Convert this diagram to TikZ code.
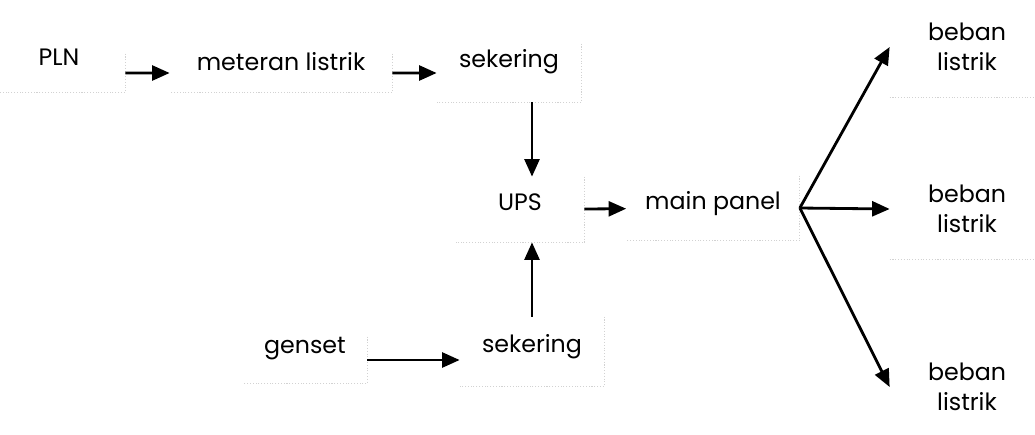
\documentclass[tikz,border=0pt]{standalone}
\usepackage{fontspec}
\setmainfont{Poppins}
\usepackage{tikz}
\usetikzlibrary{arrows.meta,positioning}

\begin{document}
\begin{tikzpicture}[
    x=0.02cm, y=-0.02cm,
    block/.style={inner sep=0pt, anchor=base, font=\fontsize{13.5}{17}\selectfont},
    load/.style={inner sep=0pt, align=center, minimum width=3.08cm,
                 minimum height=2cm, font=\fontsize{13.5}{17}\selectfont},
    rim/.style={gray!35, densely dotted, line width=0.6pt},
    arrow/.style={-{Triangle[length=10pt,width=8.5pt]}, line width=1.6pt}
]
\useasboundingbox (0,0) rectangle (1035,434);

\node[block, minimum width=2.64cm, text height=0.22cm, text depth=0.54cm] (pln)    at (59,65)   {PLN};
\node[block, minimum width=4.44cm, text height=0.32cm, text depth=0.44cm] (meter)  at (281,70)  {meteran listrik};
\node[block, minimum width=2.88cm, text height=0.46cm, text depth=0.70cm] (fuseA)  at (509,67)  {sekering};
\node[block, minimum width=2.56cm, text height=0.66cm, text depth=0.64cm] (ups)    at (520,210) {UPS};
\node[block, minimum width=3.46cm, text height=0.66cm, text depth=0.62cm] (panel)  at (713,209) {main panel};
\node[block, minimum width=2.48cm, text height=0.32cm, text depth=0.60cm] (genset) at (305,353) {genset};
\node[block, minimum width=2.88cm, text height=0.70cm, text depth=0.68cm] (fuseB)  at (532,352) {sekering};
\node[load] (loadA) at (967,47)  {beban\\listrik};
\node[load] (loadB) at (967,209) {beban\\listrik};
\node[load] (loadC) at (967,387) {beban\\listrik};

% faint box edges
\foreach \n in {pln,meter,fuseA,ups,panel,genset,fuseB}
    \draw[rim] (\n.north east) |- (\n.south west);
\foreach \n in {loadA,loadB,loadC}
    \draw[rim] (\n.south west) -- (\n.south east);

\draw[arrow] (pln)   -- (meter);
\draw[arrow] (meter) -- (fuseA);
\draw[arrow] (fuseA.south -| fuseB.north) -- (ups.north -| fuseB.north);
\draw[arrow] (fuseB.north) -- (ups.south -| fuseB.north);
\draw[arrow] (genset.east) -- (genset.east -| fuseB.west);
\draw[arrow] (ups)   -- (panel);
\draw[arrow] (panel.east) -- (loadA.west);
\draw[arrow] (panel.east) -- (loadB.west);
\draw[arrow] (panel.east) -- (loadC.west);
\end{tikzpicture}
\end{document}
